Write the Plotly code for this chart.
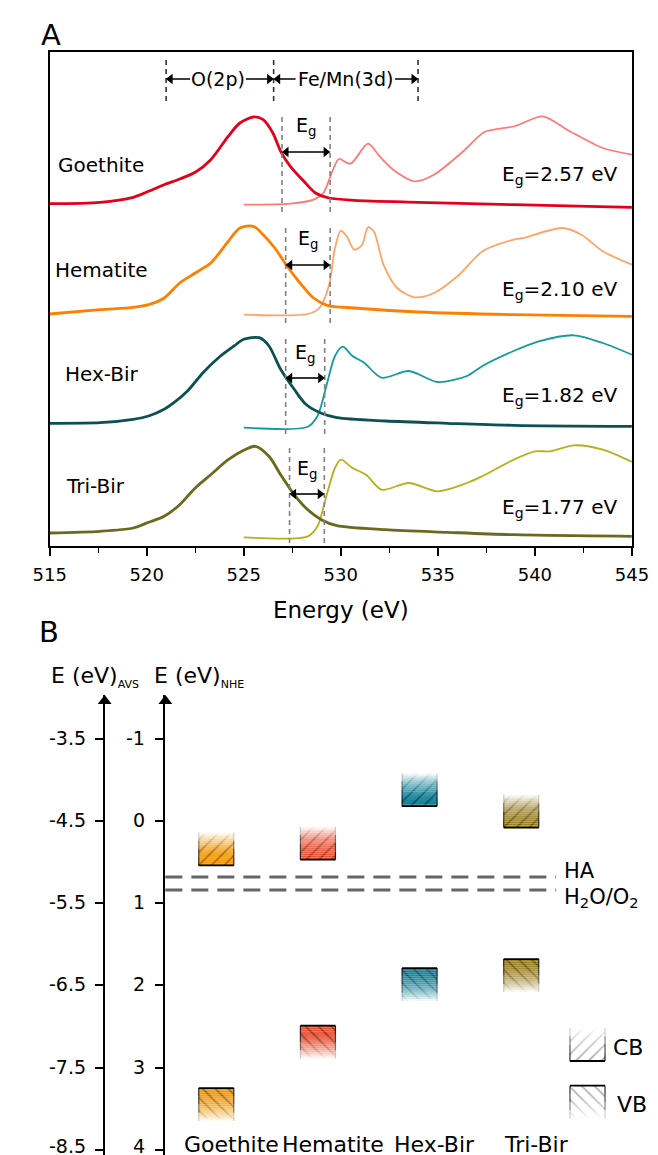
import plotly.graph_objects as go

W, H = 658, 1155
FONT = "DejaVu Sans, Arial, sans-serif"

# ---------------- Panel A data (energy in eV, intensity in a.u. above each baseline) ----------------
SAMPLES = ["Goethite", "Hematite", "Hex-Bir", "Tri-Bir"]
EG_VALUES = ["2.57", "2.10", "1.82", "1.77"]
OFFSETS = [342, 231, 120, 11]

GOE_VB_E = [515.0, 517.6, 519.3, 520.1, 520.9, 521.7, 522.5, 523.3, 524.2, 524.8, 525.5, 526.0, 526.5, 526.9, 527.4, 528.1, 528.7, 529.4, 530.7, 534.0, 538.9, 545.0]
GOE_VB_I = [0.3, 1.7, 6.7, 12.7, 19.3, 25.0, 31.7, 44.3, 67.7, 81.0, 87.0, 84.3, 71.0, 52.7, 37.7, 22.7, 11.0, 6.0, 3.7, 1.7, -0.7, -3.3]
GOE_XAS_E = [525.0, 527.4, 528.6, 529.1, 529.6, 529.9, 530.5, 531.4, 532.0, 532.7, 533.8, 534.8, 536.4, 537.4, 539.0, 540.4, 541.8, 543.5, 545.0]
GOE_XAS_I = [-0.7, 0.3, 4.3, 11.0, 34.3, 45.0, 40.3, 60.3, 47.7, 34.3, 22.7, 29.3, 54.3, 72.0, 78.0, 87.7, 72.7, 56.0, 49.3]

HEM_VB_E = [515.0, 517.6, 519.3, 520.1, 520.9, 521.7, 522.5, 523.3, 524.2, 524.8, 525.5, 526.0, 526.6, 527.3, 527.9, 528.6, 529.3, 530.7, 534.0, 538.9, 545.0]
HEM_VB_I = [1.0, 5.3, 7.7, 10.3, 17.0, 32.0, 42.0, 52.0, 73.7, 87.0, 88.7, 80.3, 67.0, 47.0, 32.0, 17.0, 9.7, 7.0, 3.0, 0.3, -1.3]
HEM_XAS_E = [525.0, 528.3, 528.9, 529.4, 529.7, 530.0, 530.3, 530.7, 531.1, 531.4, 531.7, 532.2, 532.9, 533.8, 534.8, 536.1, 537.3, 538.9, 539.4, 541.4, 542.4, 543.5, 545.0]
HEM_XAS_I = [0.3, 1.0, 7.0, 30.3, 67.0, 84.3, 78.7, 65.3, 70.3, 87.7, 83.7, 50.3, 27.0, 17.7, 22.0, 40.3, 63.7, 75.3, 77.0, 87.0, 80.3, 63.7, 50.3]

HEX_VB_E = [515.0, 517.6, 519.3, 520.1, 520.9, 521.4, 522.1, 522.9, 523.7, 524.5, 525.0, 525.8, 526.3, 526.9, 527.6, 528.2, 529.0, 529.8, 532.3, 535.5, 538.9, 545.0]
HEX_VB_I = [2.7, 3.3, 6.7, 10.0, 16.7, 23.3, 35.0, 53.3, 68.3, 80.0, 86.7, 88.3, 80.0, 56.7, 36.7, 21.7, 12.7, 8.3, 5.0, 2.7, 0.7, -0.3]
HEX_XAS_E = [525.0, 528.3, 528.8, 529.3, 529.7, 530.1, 530.6, 531.2, 532.1, 533.5, 535.0, 536.5, 537.3, 538.9, 540.2, 542.0, 543.5, 545.0]
HEX_XAS_I = [-1.7, -0.7, 10.0, 43.3, 70.0, 79.3, 70.0, 63.3, 48.3, 55.0, 44.0, 50.0, 60.0, 75.0, 84.7, 90.7, 83.0, 71.3]

TRI_VB_E = [515.0, 517.6, 519.3, 520.1, 520.9, 521.7, 522.5, 523.3, 524.2, 525.0, 525.6, 526.3, 526.9, 527.6, 528.2, 529.0, 529.8, 532.3, 535.5, 538.9, 545.0]
TRI_VB_I = [2.0, 3.7, 7.0, 12.7, 18.7, 30.3, 47.0, 60.3, 75.3, 84.7, 88.7, 78.7, 60.3, 40.3, 27.0, 15.3, 9.3, 5.3, 2.7, 0.3, -1.3]
TRI_XAS_E = [525.0, 528.3, 528.8, 529.3, 529.7, 530.0, 530.6, 531.3, 532.1, 533.5, 535.0, 536.5, 537.3, 538.9, 540.0, 540.8, 542.0, 543.5, 545.0]
TRI_XAS_I = [-2.3, -1.3, 8.7, 42.0, 67.0, 75.3, 67.0, 60.3, 45.3, 52.0, 43.7, 52.0, 59.0, 75.3, 83.7, 83.7, 89.7, 85.3, 73.0]

VB_E = [GOE_VB_E, HEM_VB_E, HEX_VB_E, TRI_VB_E]
VB_I = [GOE_VB_I, HEM_VB_I, HEX_VB_I, TRI_VB_I]
XAS_E = [GOE_XAS_E, HEM_XAS_E, HEX_XAS_E, TRI_XAS_E]
XAS_I = [GOE_XAS_I, HEM_XAS_I, HEX_XAS_I, TRI_XAS_I]

EG_LEFT = [526.97, 527.16, 527.16, 527.36]
EG_RIGHT = [529.45, 529.45, 529.17, 529.15]
EG_ARROW_I = [52, 50, 48, 41]

REGION_E = [521.0, 526.54, 533.98]
REGION_LABELS = ["O(2p)", "Fe/Mn(3d)"]

X_TICKS = [515, 520, 525, 530, 535, 540, 545]

# ---------------- Panel B data (E vs NHE, eV) ----------------
CATEGORIES = ["Goethite", "Hematite", "Hex-Bir", "Tri-Bir"]
CB_NHE = [0.54, 0.47, -0.18, 0.08]
VB_NHE = [3.25, 2.49, 1.79, 1.68]
HA_NHE = 0.68
H2O_O2_NHE = 0.84
NHE_TICKS = [-1, 0, 1, 2, 3, 4]
AVS_TICKS = [-3.5, -4.5, -5.5, -6.5, -7.5, -8.5]
AVS_SHIFT = -4.5  # E_AVS = -4.5 - E_NHE

# ---------------- styles ----------------
VB_COLORS = ["#e4001b", "#ff7f00", "#0c5151", "#6a6a1e"]
XAS_COLORS = ["#ff7b78", "#ffa466", "#169b9b", "#b5b01c"]
BOX_RGB = [(246, 152, 0), (238, 80, 48), (16, 130, 152), (156, 130, 36)]

NHE_MIN, NHE_MAX = -1.533, 4.161
X2_MIN, X2_MAX = -0.501, 4.257
PX_PER_NHE = 82.2
PX_PER_EV = 20.47


def px2x(px):
    return px / W


def py2y(py):
    return 1 - py / H


fig = go.Figure()


def line_trace(x, y, color, width, dash=None, xa="x", ya="y", shape="linear"):
    ln = dict(color=color, width=width, shape=shape)
    if shape == "spline":
        ln["smoothing"] = 0.8
    if dash:
        ln["dash"] = dash
    return go.Scatter(x=x, y=y, mode="lines", line=ln, xaxis=xa, yaxis=ya,
                      showlegend=False, hoverinfo="skip")


def head_trace(x, y, symbol, size, xa="x", ya="y"):
    return go.Scatter(x=x, y=y, mode="markers", cliponaxis=False,
                      marker=dict(symbol=symbol, size=size, color="black", line=dict(width=0)),
                      xaxis=xa, yaxis=ya, showlegend=False, hoverinfo="skip")


# ---- Panel A traces ----
HEAD_D = 4.5 / PX_PER_EV
for i in range(4):
    off = OFFSETS[i]
    fig.add_trace(line_trace(XAS_E[i], [v + off for v in XAS_I[i]], XAS_COLORS[i], 1.8, shape="spline"))
    fig.add_trace(line_trace(VB_E[i], [v + off for v in VB_I[i]], VB_COLORS[i], 2.8, shape="spline"))
    for e in (EG_LEFT[i], EG_RIGHT[i]):
        fig.add_trace(line_trace([e, e], [off - 8, off + 88], "#808080", 1.6, dash="5px,4px"))
    ya = off + EG_ARROW_I[i]
    fig.add_trace(line_trace([EG_LEFT[i] + HEAD_D, EG_RIGHT[i] - HEAD_D], [ya, ya], "black", 1.6))
    fig.add_trace(head_trace([EG_LEFT[i] + HEAD_D], [ya], "triangle-left", 9))
    fig.add_trace(head_trace([EG_RIGHT[i] - HEAD_D], [ya], "triangle-right", 9))

# header dashed separators and arrows
HEADER_Y = 467
TEXT_EDGES = [(522.24, 525.11), (527.67, 532.80)]
for e in REGION_E:
    fig.add_trace(line_trace([e, e], [445, 488], "#333333", 1.6, dash="5px,4px"))
for j in range(2):
    lo, hi = TEXT_EDGES[j]
    fig.add_trace(line_trace([REGION_E[j] + HEAD_D, lo], [HEADER_Y, HEADER_Y], "black", 1.5))
    fig.add_trace(line_trace([hi, REGION_E[j + 1] - HEAD_D], [HEADER_Y, HEADER_Y], "black", 1.5))
    fig.add_trace(head_trace([REGION_E[j] + HEAD_D], [HEADER_Y], "triangle-left", 9))
    fig.add_trace(head_trace([REGION_E[j + 1] - HEAD_D], [HEADER_Y], "triangle-right", 9))

# ---- Panel B traces ----
N_SLICES = 16
BOX_H = 0.40
BOX_W = 0.345


def alpha_at(t):
    # t = 0 at the solid edge, 1 at the faded end
    return max(0.0, 1 - t ** 1.8)


def grad_box(xc, edge, direction, rgb, shape, hatch=0.95):
    h = BOX_H / N_SLICES
    bases, cols, fgs = [], [], []
    for k in range(N_SLICES):
        a = alpha_at((k + 0.5) / N_SLICES)
        bases.append(edge - (k + 1) * h if direction < 0 else edge + k * h)
        cols.append("rgba(%d,%d,%d,%.3f)" % (rgb[0], rgb[1], rgb[2], a))
        fgs.append("rgba(0,0,0,%.3f)" % (hatch * a))
    return go.Bar(
        x=[xc] * N_SLICES, y=[h] * N_SLICES, base=bases, width=BOX_W,
        marker=dict(color="rgba(0,0,0,0)", line=dict(width=0),
                    pattern=dict(shape=shape, bgcolor=cols, fgcolor=fgs, size=9,
                                 solidity=0.16, fillmode="overlay")),
        xaxis="x2", yaxis="y2", showlegend=False, hoverinfo="skip")


def box_outline(xc, edge, direction):
    traces = [line_trace([xc - BOX_W / 2, xc + BOX_W / 2], [edge, edge], "black", 1.8, xa="x2", ya="y2")]
    levels = 4
    for k in range(levels):
        a = 0.85 * alpha_at((k + 0.5) / levels)
        y0 = edge + direction * BOX_H * k / levels
        y1 = edge + direction * BOX_H * (k + 1) / levels
        xl, xr = xc - BOX_W / 2, xc + BOX_W / 2
        traces.append(line_trace([xl, xl, None, xr, xr], [y0, y1, None, y0, y1],
                                 "rgba(0,0,0,%.3f)" % a, 1.2, xa="x2", ya="y2"))
    return traces


for i in range(4):
    fig.add_trace(grad_box(i, CB_NHE[i], -1, BOX_RGB[i], "/"))
    fig.add_trace(grad_box(i, VB_NHE[i], +1, BOX_RGB[i], "\\"))
    for t in box_outline(i, CB_NHE[i], -1) + box_outline(i, VB_NHE[i], +1):
        fig.add_trace(t)

# legend boxes
LEG_X = 3.652
LEG_CB_EDGE = 2.92
LEG_VB_EDGE = 3.22
fig.add_trace(grad_box(LEG_X, LEG_CB_EDGE, -1, (255, 255, 255), "/", hatch=0.8))
fig.add_trace(grad_box(LEG_X, LEG_VB_EDGE, +1, (255, 255, 255), "\\", hatch=0.8))
for t in box_outline(LEG_X, LEG_CB_EDGE, -1) + box_outline(LEG_X, LEG_VB_EDGE, +1):
    fig.add_trace(t)

# AVS axis subplot (x3/y3) and the axis arrowheads
AVS_TOP = AVS_SHIFT - NHE_MIN
AVS_BOTTOM = AVS_SHIFT - NHE_MAX
ARROW_OFF = 6 / PX_PER_NHE
fig.add_trace(head_trace([0], [AVS_TOP - ARROW_OFF], "triangle-up", 12, xa="x3", ya="y3"))
fig.add_trace(head_trace([X2_MIN], [NHE_MIN + ARROW_OFF], "triangle-up", 12, xa="x2", ya="y2"))

# reference potential lines
for v in (HA_NHE, H2O_O2_NHE):
    fig.add_shape(type="line", xref="x2 domain", yref="y2", x0=0, x1=0.808, y0=v, y1=v,
                  line=dict(color="#666666", width=3, dash="17px,9px"))

# ---------------- annotations ----------------
ann = []


def txt(x, y, s, size, xanchor="center", yanchor="middle", **kw):
    d = dict(x=x, y=y, text=s, showarrow=False, xanchor=xanchor, yanchor=yanchor,
             font=dict(family=FONT, size=size, color="black"))
    d.update(kw)
    ann.append(d)


# panel letters
txt(px2x(27), py2y(27), "A", 29, xref="paper", yref="paper")
txt(px2x(25), py2y(624), "B", 29, xref="paper", yref="paper")

# sample labels
LABEL_PX = [(80, 157), (81, 262), (81, 366), (74, 478)]
EGLAB_PY = [167, 282, 388, 500]
for i in range(4):
    txt(px2x(LABEL_PX[i][0]), py2y(LABEL_PX[i][1]), SAMPLES[i], 20, xref="paper", yref="paper")
    txt(px2x(626), py2y(EGLAB_PY[i]), "E<sub>g</sub>=%s eV" % EG_VALUES[i], 20,
        xanchor="right", xref="paper", yref="paper")
    off = OFFSETS[i]
    txt((EG_LEFT[i] + EG_RIGHT[i]) / 2, off + EG_ARROW_I[i] + 25, "E<sub>g</sub>", 19,
        xref="x", yref="y")

for j in range(2):
    lo, hi = TEXT_EDGES[j]
    txt((lo + hi) / 2, HEADER_Y, REGION_LABELS[j], 19, xref="x", yref="y")

# x-axis title
txt(px2x(333), py2y(602), "Energy (eV)", 23, xref="paper", yref="paper")

# panel B axis titles
txt(px2x(25), py2y(669), "E (eV)<sub><span style='font-size:11px'>AVS</span></sub>", 22,
    xanchor="left", xref="paper", yref="paper")
txt(px2x(134), py2y(669), "E (eV)<sub><span style='font-size:11px'>NHE</span></sub>", 22,
    xanchor="left", xref="paper", yref="paper")

# panel B tick labels (placed as text next to the axis ticks)
for k, t in enumerate(AVS_TICKS):
    txt(px2x(65), t, str(t), 19, xanchor="right", xref="paper", yref="y3",
        yshift=4 if k == len(AVS_TICKS) - 1 else 1, borderpad=0)
for k, t in enumerate(NHE_TICKS):
    txt(px2x(128), t, str(t), 19, xanchor="right", xref="paper", yref="y2",
        yshift=4 if k == len(NHE_TICKS) - 1 else 1, borderpad=0)

# reference line labels
txt(px2x(566), HA_NHE + 0.10, "HA", 21, xanchor="left", yanchor="bottom", xref="paper", yref="y2")
txt(px2x(566), H2O_O2_NHE - 0.08, "H<sub>2</sub>O/O<sub>2</sub>", 21, xanchor="left",
    yanchor="top", xref="paper", yref="y2")

# category labels
for i, c in enumerate(CATEGORIES):
    txt(i, 3.94, c, 22, xref="x2", yref="y2", xshift=15)

# legend labels
txt(px2x(618), 2.76, "CB", 22, xanchor="left", xref="paper", yref="y2")
txt(px2x(622), 3.45, "VB", 22, xanchor="left", xref="paper", yref="y2")

AX = dict(showgrid=False, zeroline=False, linecolor="black")
B_YAX = dict(showline=True, linewidth=2, ticks="outside", ticklen=8, tickwidth=1.5,
             tickcolor="black", showticklabels=False,
             domain=[0, py2y(687)], **AX)

fig.update_layout(
    width=W, height=H, margin=dict(l=0, r=0, t=0, b=0),
    paper_bgcolor="white", plot_bgcolor="rgba(0,0,0,0)",
    font=dict(family=FONT, color="black"),
    barmode="overlay", showlegend=False,
    xaxis=dict(domain=[px2x(26), px2x(640)], range=[515, 545], anchor="y",
               showline=True, mirror=True, linewidth=1.5, ticks="outside", ticklen=8,
               tickwidth=1.5, tickcolor="black", tickvals=X_TICKS,
               tickfont=dict(size=18, family=FONT), ticklabelstandoff=4,
               minor=dict(dtick=2.5, tick0=515, ticks="outside", ticklen=5, tickwidth=1.3,
                          tickcolor="black"), **AX),
    yaxis=dict(domain=[py2y(538), py2y(44)], range=[0, 494], anchor="x",
               showline=True, mirror=True, linewidth=1.5, ticks="", showticklabels=False, **AX),
    xaxis2=dict(domain=[px2x(148), 1.0], range=[X2_MIN, X2_MAX], anchor="y2", visible=False, **AX),
    yaxis2=dict(range=[NHE_MAX, NHE_MIN], anchor="x2", tickvals=NHE_TICKS, **B_YAX),
    xaxis3=dict(domain=[px2x(84), 1.0], range=[0, 1], anchor="y3", visible=False, **AX),
    yaxis3=dict(range=[AVS_BOTTOM, AVS_TOP], anchor="x3", tickvals=AVS_TICKS, **B_YAX),
    annotations=ann,
)

fig.write_html("out.html")
